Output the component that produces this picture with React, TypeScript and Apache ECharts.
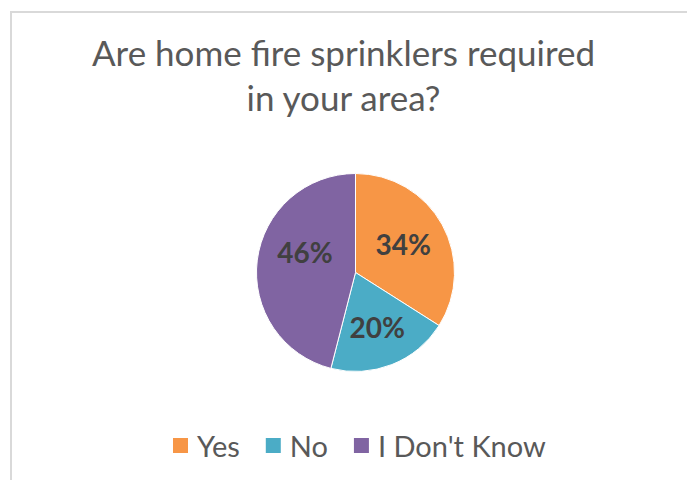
import React, { useEffect, useRef } from "react";
import * as echarts from "echarts";

const titleText = "Are home fire sprinklers required\nin your area?";
const categories = ["Yes", "No", "I Don't Know"];
const values = [34, 20, 46];
const colors = ["#F79646", "#4BACC6", "#8064A2"];

export default function App() {
  const ref = useRef<HTMLDivElement>(null);
  useEffect(() => {
    if (!ref.current) return;
    const chart = echarts.init(ref.current, null, { renderer: "svg" });
    const data = categories.map((name, i) => ({
      name,
      value: values[i],
      itemStyle: { color: colors[i] },
    }));
    chart.setOption({
      animation: false,
      backgroundColor: "#ffffff",
      title: {
        text: titleText,
        left: "center",
        top: 24,
        itemGap: 0,
        textStyle: {
          fontFamily: "Lato",
          fontSize: 35,
          fontWeight: "normal",
          color: "#595959",
          lineHeight: 45,
        },
      },
      legend: {
        data: categories,
        bottom: 15,
        left: 166,
        itemWidth: 17,
        itemHeight: 17,
        itemGap: 24,
        icon: "rect",
        textStyle: {
          fontFamily: "Lato",
          fontSize: 29,
          color: "#595959",
          padding: [0, 0, 0, 3],
        },
      },
      graphic: [
        {
          type: "rect",
          shape: { x: 11, y: 12, width: 800, height: 600 },
          style: { fill: "none", stroke: "#d9d9d9", lineWidth: 2 },
          silent: true,
          z: -1,
        },
      ],
      series: [
        {
          type: "pie",
          center: [355.5, 272.5],
          radius: [0, 99],
          startAngle: 90,
          clockwise: true,
          data,
          label: { show: false },
          labelLine: { show: false },
          itemStyle: { borderColor: "#ffffff", borderWidth: 1 },
          emphasis: { disabled: true },
        },
        {
          type: "pie",
          center: [355.5, 272.5],
          radius: [0, 112],
          startAngle: 90,
          clockwise: true,
          silent: true,
          data: categories.map((name, i) => ({ name, value: values[i] })),
          itemStyle: { color: "rgba(0,0,0,0)" },
          label: {
            show: true,
            position: "inside",
            formatter: "{c}%",
            fontFamily: "Lato",
            fontWeight: "bold",
            fontSize: 28,
            color: "#404040",
          },
          labelLayout: (p: any) =>
            p.dataIndex === 2 ? { dx: 8, dy: -13 } : p.dataIndex === 0 ? { dx: -4, dy: 0 } : {},
          labelLine: { show: false },
          emphasis: { disabled: true },
        },
      ],
    });
    return () => chart.dispose();
  }, []);
  return (
    <div
      ref={ref}
      style={{ position: "fixed", left: 0, top: 0, width: 687, height: 480 }}
    />
  );
}
